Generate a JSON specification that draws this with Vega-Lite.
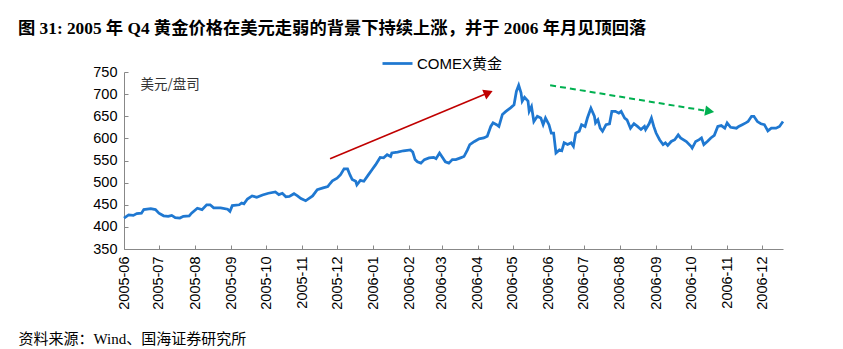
{
  "$schema": "https://vega.github.io/schema/vega-lite/v6.json",
  "width": 659,
  "height": 177,
  "autosize": {"type": "none"},
  "padding": {"left": 124, "top": 72, "right": 60, "bottom": 100},
  "background": "white",
  "config": {"view": {"stroke": null}, "font": "Liberation Sans", "axis": {"labelOverlap": false}},
  "title": {
    "text": "图 31:  2005 年 Q4 黄金价格在美元走弱的背景下持续上涨，并于 2006 年月见顶回落",
    "anchor": "start",
    "frame": "group",
    "dx": -106,
    "offset": 10,
    "font": "Liberation Serif, Noto Sans CJK SC",
    "fontSize": 17.3,
    "fontWeight": "bold",
    "color": "#000000"
  },
  "datasets": {
    "gold": [
      {"date": "2005/06/01", "price": 420}, {"date": "2005/06/05", "price": 427}, {"date": "2005/06/09", "price": 426}, {"date": "2005/06/12", "price": 430}, {"date": "2005/06/16", "price": 431}, {"date": "2005/06/18", "price": 439}, {"date": "2005/06/24", "price": 441}, {"date": "2005/06/28", "price": 439},
      {"date": "2005/07/01", "price": 431}, {"date": "2005/07/05", "price": 425}, {"date": "2005/07/09", "price": 424}, {"date": "2005/07/12", "price": 426}, {"date": "2005/07/15", "price": 421}, {"date": "2005/07/19", "price": 420}, {"date": "2005/07/22", "price": 424}, {"date": "2005/07/27", "price": 425}, {"date": "2005/07/29", "price": 431},
      {"date": "2005/08/03", "price": 442}, {"date": "2005/08/07", "price": 439}, {"date": "2005/08/11", "price": 450}, {"date": "2005/08/14", "price": 450}, {"date": "2005/08/17", "price": 443}, {"date": "2005/08/23", "price": 443}, {"date": "2005/08/29", "price": 440}, {"date": "2005/08/31", "price": 435},
      {"date": "2005/09/02", "price": 448}, {"date": "2005/09/08", "price": 450}, {"date": "2005/09/10", "price": 454}, {"date": "2005/09/12", "price": 452}, {"date": "2005/09/15", "price": 463}, {"date": "2005/09/19", "price": 470}, {"date": "2005/09/23", "price": 467}, {"date": "2005/09/28", "price": 472},
      {"date": "2005/10/03", "price": 476}, {"date": "2005/10/09", "price": 479}, {"date": "2005/10/12", "price": 473}, {"date": "2005/10/15", "price": 476}, {"date": "2005/10/18", "price": 468}, {"date": "2005/10/21", "price": 469}, {"date": "2005/10/25", "price": 475}, {"date": "2005/10/28", "price": 470}, {"date": "2005/10/31", "price": 464},
      {"date": "2005/11/04", "price": 459}, {"date": "2005/11/10", "price": 470}, {"date": "2005/11/14", "price": 484}, {"date": "2005/11/19", "price": 488}, {"date": "2005/11/23", "price": 491}, {"date": "2005/11/25", "price": 498}, {"date": "2005/11/27", "price": 504},
      {"date": "2005/12/01", "price": 510}, {"date": "2005/12/04", "price": 518}, {"date": "2005/12/07", "price": 531}, {"date": "2005/12/10", "price": 531}, {"date": "2005/12/12", "price": 518}, {"date": "2005/12/14", "price": 507}, {"date": "2005/12/17", "price": 503}, {"date": "2005/12/18", "price": 495}, {"date": "2005/12/21", "price": 505}, {"date": "2005/12/24", "price": 503}, {"date": "2005/12/28", "price": 518}, {"date": "2005/12/31", "price": 529},
      {"date": "2006/01/03", "price": 540}, {"date": "2006/01/07", "price": 557}, {"date": "2006/01/10", "price": 556}, {"date": "2006/01/13", "price": 563}, {"date": "2006/01/16", "price": 559}, {"date": "2006/01/17", "price": 567}, {"date": "2006/01/22", "price": 569}, {"date": "2006/01/27", "price": 572},
      {"date": "2006/02/02", "price": 574}, {"date": "2006/02/04", "price": 569}, {"date": "2006/02/06", "price": 552}, {"date": "2006/02/08", "price": 547}, {"date": "2006/02/11", "price": 544}, {"date": "2006/02/14", "price": 552}, {"date": "2006/02/18", "price": 556}, {"date": "2006/02/22", "price": 557}, {"date": "2006/02/24", "price": 554}, {"date": "2006/02/27", "price": 567},
      {"date": "2006/03/01", "price": 559}, {"date": "2006/03/04", "price": 547}, {"date": "2006/03/07", "price": 544}, {"date": "2006/03/10", "price": 552}, {"date": "2006/03/13", "price": 552}, {"date": "2006/03/17", "price": 556}, {"date": "2006/03/20", "price": 559}, {"date": "2006/03/23", "price": 574}, {"date": "2006/03/25", "price": 586}, {"date": "2006/03/29", "price": 593},
      {"date": "2006/04/02", "price": 599}, {"date": "2006/04/06", "price": 601}, {"date": "2006/04/09", "price": 605}, {"date": "2006/04/12", "price": 627}, {"date": "2006/04/14", "price": 635}, {"date": "2006/04/17", "price": 631}, {"date": "2006/04/19", "price": 627}, {"date": "2006/04/22", "price": 654}, {"date": "2006/04/25", "price": 661}, {"date": "2006/04/29", "price": 669},
      {"date": "2006/05/02", "price": 676}, {"date": "2006/05/04", "price": 706}, {"date": "2006/05/06", "price": 720}, {"date": "2006/05/08", "price": 703}, {"date": "2006/05/09", "price": 684}, {"date": "2006/05/11", "price": 693}, {"date": "2006/05/14", "price": 684}, {"date": "2006/05/15", "price": 661}, {"date": "2006/05/17", "price": 672}, {"date": "2006/05/19", "price": 638}, {"date": "2006/05/22", "price": 650}, {"date": "2006/05/25", "price": 646}, {"date": "2006/05/27", "price": 631}, {"date": "2006/05/29", "price": 646},
      {"date": "2006/06/01", "price": 631}, {"date": "2006/06/03", "price": 612}, {"date": "2006/06/05", "price": 612}, {"date": "2006/06/07", "price": 567}, {"date": "2006/06/10", "price": 574}, {"date": "2006/06/12", "price": 572}, {"date": "2006/06/14", "price": 590}, {"date": "2006/06/17", "price": 586}, {"date": "2006/06/20", "price": 590}, {"date": "2006/06/22", "price": 582}, {"date": "2006/06/24", "price": 612}, {"date": "2006/06/27", "price": 616}, {"date": "2006/06/29", "price": 631},
      {"date": "2006/07/02", "price": 627}, {"date": "2006/07/04", "price": 646}, {"date": "2006/07/07", "price": 668}, {"date": "2006/07/10", "price": 650}, {"date": "2006/07/11", "price": 635}, {"date": "2006/07/13", "price": 642}, {"date": "2006/07/15", "price": 623}, {"date": "2006/07/17", "price": 616}, {"date": "2006/07/20", "price": 631}, {"date": "2006/07/23", "price": 633}, {"date": "2006/07/25", "price": 661}, {"date": "2006/07/28", "price": 661}, {"date": "2006/07/31", "price": 657},
      {"date": "2006/08/02", "price": 661}, {"date": "2006/08/05", "price": 646}, {"date": "2006/08/07", "price": 642}, {"date": "2006/08/10", "price": 623}, {"date": "2006/08/13", "price": 633}, {"date": "2006/08/16", "price": 627}, {"date": "2006/08/19", "price": 620}, {"date": "2006/08/22", "price": 627}, {"date": "2006/08/23", "price": 620}, {"date": "2006/08/26", "price": 633}, {"date": "2006/08/28", "price": 646}, {"date": "2006/08/30", "price": 627},
      {"date": "2006/09/01", "price": 612}, {"date": "2006/09/04", "price": 597}, {"date": "2006/09/07", "price": 586}, {"date": "2006/09/09", "price": 590}, {"date": "2006/09/11", "price": 584}, {"date": "2006/09/14", "price": 593}, {"date": "2006/09/17", "price": 597}, {"date": "2006/09/20", "price": 608}, {"date": "2006/09/22", "price": 601}, {"date": "2006/09/27", "price": 593},
      {"date": "2006/10/01", "price": 582}, {"date": "2006/10/02", "price": 578}, {"date": "2006/10/05", "price": 593}, {"date": "2006/10/08", "price": 597}, {"date": "2006/10/10", "price": 601}, {"date": "2006/10/12", "price": 586}, {"date": "2006/10/15", "price": 593}, {"date": "2006/10/18", "price": 601}, {"date": "2006/10/21", "price": 607}, {"date": "2006/10/24", "price": 627}, {"date": "2006/10/27", "price": 629}, {"date": "2006/10/30", "price": 623},
      {"date": "2006/11/01", "price": 635}, {"date": "2006/11/04", "price": 625}, {"date": "2006/11/09", "price": 623}, {"date": "2006/11/11", "price": 627}, {"date": "2006/11/14", "price": 631}, {"date": "2006/11/17", "price": 635}, {"date": "2006/11/19", "price": 638}, {"date": "2006/11/22", "price": 650}, {"date": "2006/11/24", "price": 650}, {"date": "2006/11/27", "price": 638}, {"date": "2006/11/30", "price": 633},
      {"date": "2006/12/03", "price": 631}, {"date": "2006/12/06", "price": 617}, {"date": "2006/12/09", "price": 623}, {"date": "2006/12/13", "price": 623}, {"date": "2006/12/16", "price": 627}, {"date": "2006/12/19", "price": 638}
    ],
    "trend": [
      {"trend": "上涨", "date": "2005/11/25", "price": 554, "date2": "2006/04/10", "price2": 703},
      {"trend": "回落", "date": "2006/06/02", "price": 720, "date2": "2006/10/17", "price2": 661}
    ],
    "heads": [
      {"trend": "上涨", "date": "2006/04/10", "price": 703},
      {"trend": "回落", "date": "2006/10/17", "price": 661}
    ]
  },
  "encoding": {
    "x": {
      "field": "date", "type": "temporal",
      "title": "资料来源：Wind、国海证券研究所",
      "scale": {"domain": [{"year": 2005, "month": 6, "date": 1}, {"year": 2006, "month": 12, "date": 19}], "nice": false},
      "axis": {
        "titleFont": "Liberation Serif, Noto Sans CJK SC",
        "titleFontSize": 15, "titleFontWeight": "normal", "titleColor": "#000000",
        "titleAnchor": "start", "titleAlign": "left", "titleBaseline": "middle",
        "titleX": -106, "titleY": 89,
        "values": [
          {"year": 2005, "month": 6, "date": 1}, {"year": 2005, "month": 7, "date": 1}, {"year": 2005, "month": 8, "date": 1}, {"year": 2005, "month": 9, "date": 1}, {"year": 2005, "month": 10, "date": 1}, {"year": 2005, "month": 11, "date": 1}, {"year": 2005, "month": 12, "date": 1},
          {"year": 2006, "month": 1, "date": 1}, {"year": 2006, "month": 2, "date": 1}, {"year": 2006, "month": 3, "date": 1}, {"year": 2006, "month": 4, "date": 1}, {"year": 2006, "month": 5, "date": 1}, {"year": 2006, "month": 6, "date": 1}, {"year": 2006, "month": 7, "date": 1}, {"year": 2006, "month": 8, "date": 1}, {"year": 2006, "month": 9, "date": 1}, {"year": 2006, "month": 10, "date": 1}, {"year": 2006, "month": 11, "date": 1}, {"year": 2006, "month": 12, "date": 1}
        ],
        "format": "%Y-%m",
        "labelAngle": 270,
        "labelFontSize": 14.5, "labelColor": "#000000", "labelPadding": 11,
        "labelOverlap": false, "labelBound": false, "labelFlush": false,
        "grid": false,
        "domainColor": "#888888", "tickColor": "#888888", "tickSize": -4
      }
    },
    "y": {
      "field": "price", "type": "quantitative",
      "title": "美元/盘司",
      "scale": {"domain": [350, 750], "nice": false, "zero": false},
      "axis": {
        "titleFont": "Noto Sans CJK SC", "titleFontSize": 13.5, "titleFontWeight": "normal", "titleColor": "#333333",
        "titleAngle": 0, "titleAlign": "left", "titleBaseline": "middle", "titleX": 16, "titleY": 12,
        "values": [350, 400, 450, 500, 550, 600, 650, 700, 750],
        "labelFontSize": 14.5, "labelColor": "#000000", "labelPadding": 11,
        "labelOverlap": false,
        "grid": false,
        "domainColor": "#888888", "tickColor": "#888888", "tickSize": -4
      }
    }
  },
  "layer": [
    {
      "data": {"name": "gold"},
      "mark": {"type": "line", "strokeWidth": 2.75, "interpolate": "linear"},
      "encoding": {
        "color": {
          "datum": "COMEX黄金",
          "scale": {"range": ["#1F78D1"]},
          "legend": {
            "title": null, "orient": "none", "legendX": 257, "legendY": -25,
            "symbolType": "stroke", "symbolSize": 900, "symbolStrokeWidth": 2.75,
            "labelFont": "Liberation Sans, Noto Sans CJK SC", "labelFontSize": 15, "labelColor": "#000000",
            "labelOffset": 3, "padding": 0
          }
        }
      }
    },
    {
      "data": {"name": "trend"},
      "transform": [{"filter": "datum.trend === '上涨'"}],
      "mark": {"type": "rule", "color": "#C00000", "strokeWidth": 1.6},
      "encoding": {
        "x2": {"field": "date2"},
        "y2": {"field": "price2"}
      }
    },
    {
      "data": {"name": "heads"},
      "transform": [{"filter": "datum.trend === '上涨'"}],
      "mark": {"type": "point", "shape": "triangle-right", "filled": true, "color": "#C00000", "opacity": 1, "size": 110, "angle": -22.6},
      "encoding": {}
    },
    {
      "data": {"name": "trend"},
      "transform": [{"filter": "datum.trend === '回落'"}],
      "mark": {"type": "rule", "color": "#00B050", "strokeWidth": 2, "strokeDash": [6, 4]},
      "encoding": {
        "x2": {"field": "date2"},
        "y2": {"field": "price2"}
      }
    },
    {
      "data": {"name": "heads"},
      "transform": [{"filter": "datum.trend === '回落'"}],
      "mark": {"type": "point", "shape": "triangle-right", "filled": true, "color": "#00B050", "opacity": 1, "size": 110, "angle": 9.2},
      "encoding": {}
    }
  ]
}
